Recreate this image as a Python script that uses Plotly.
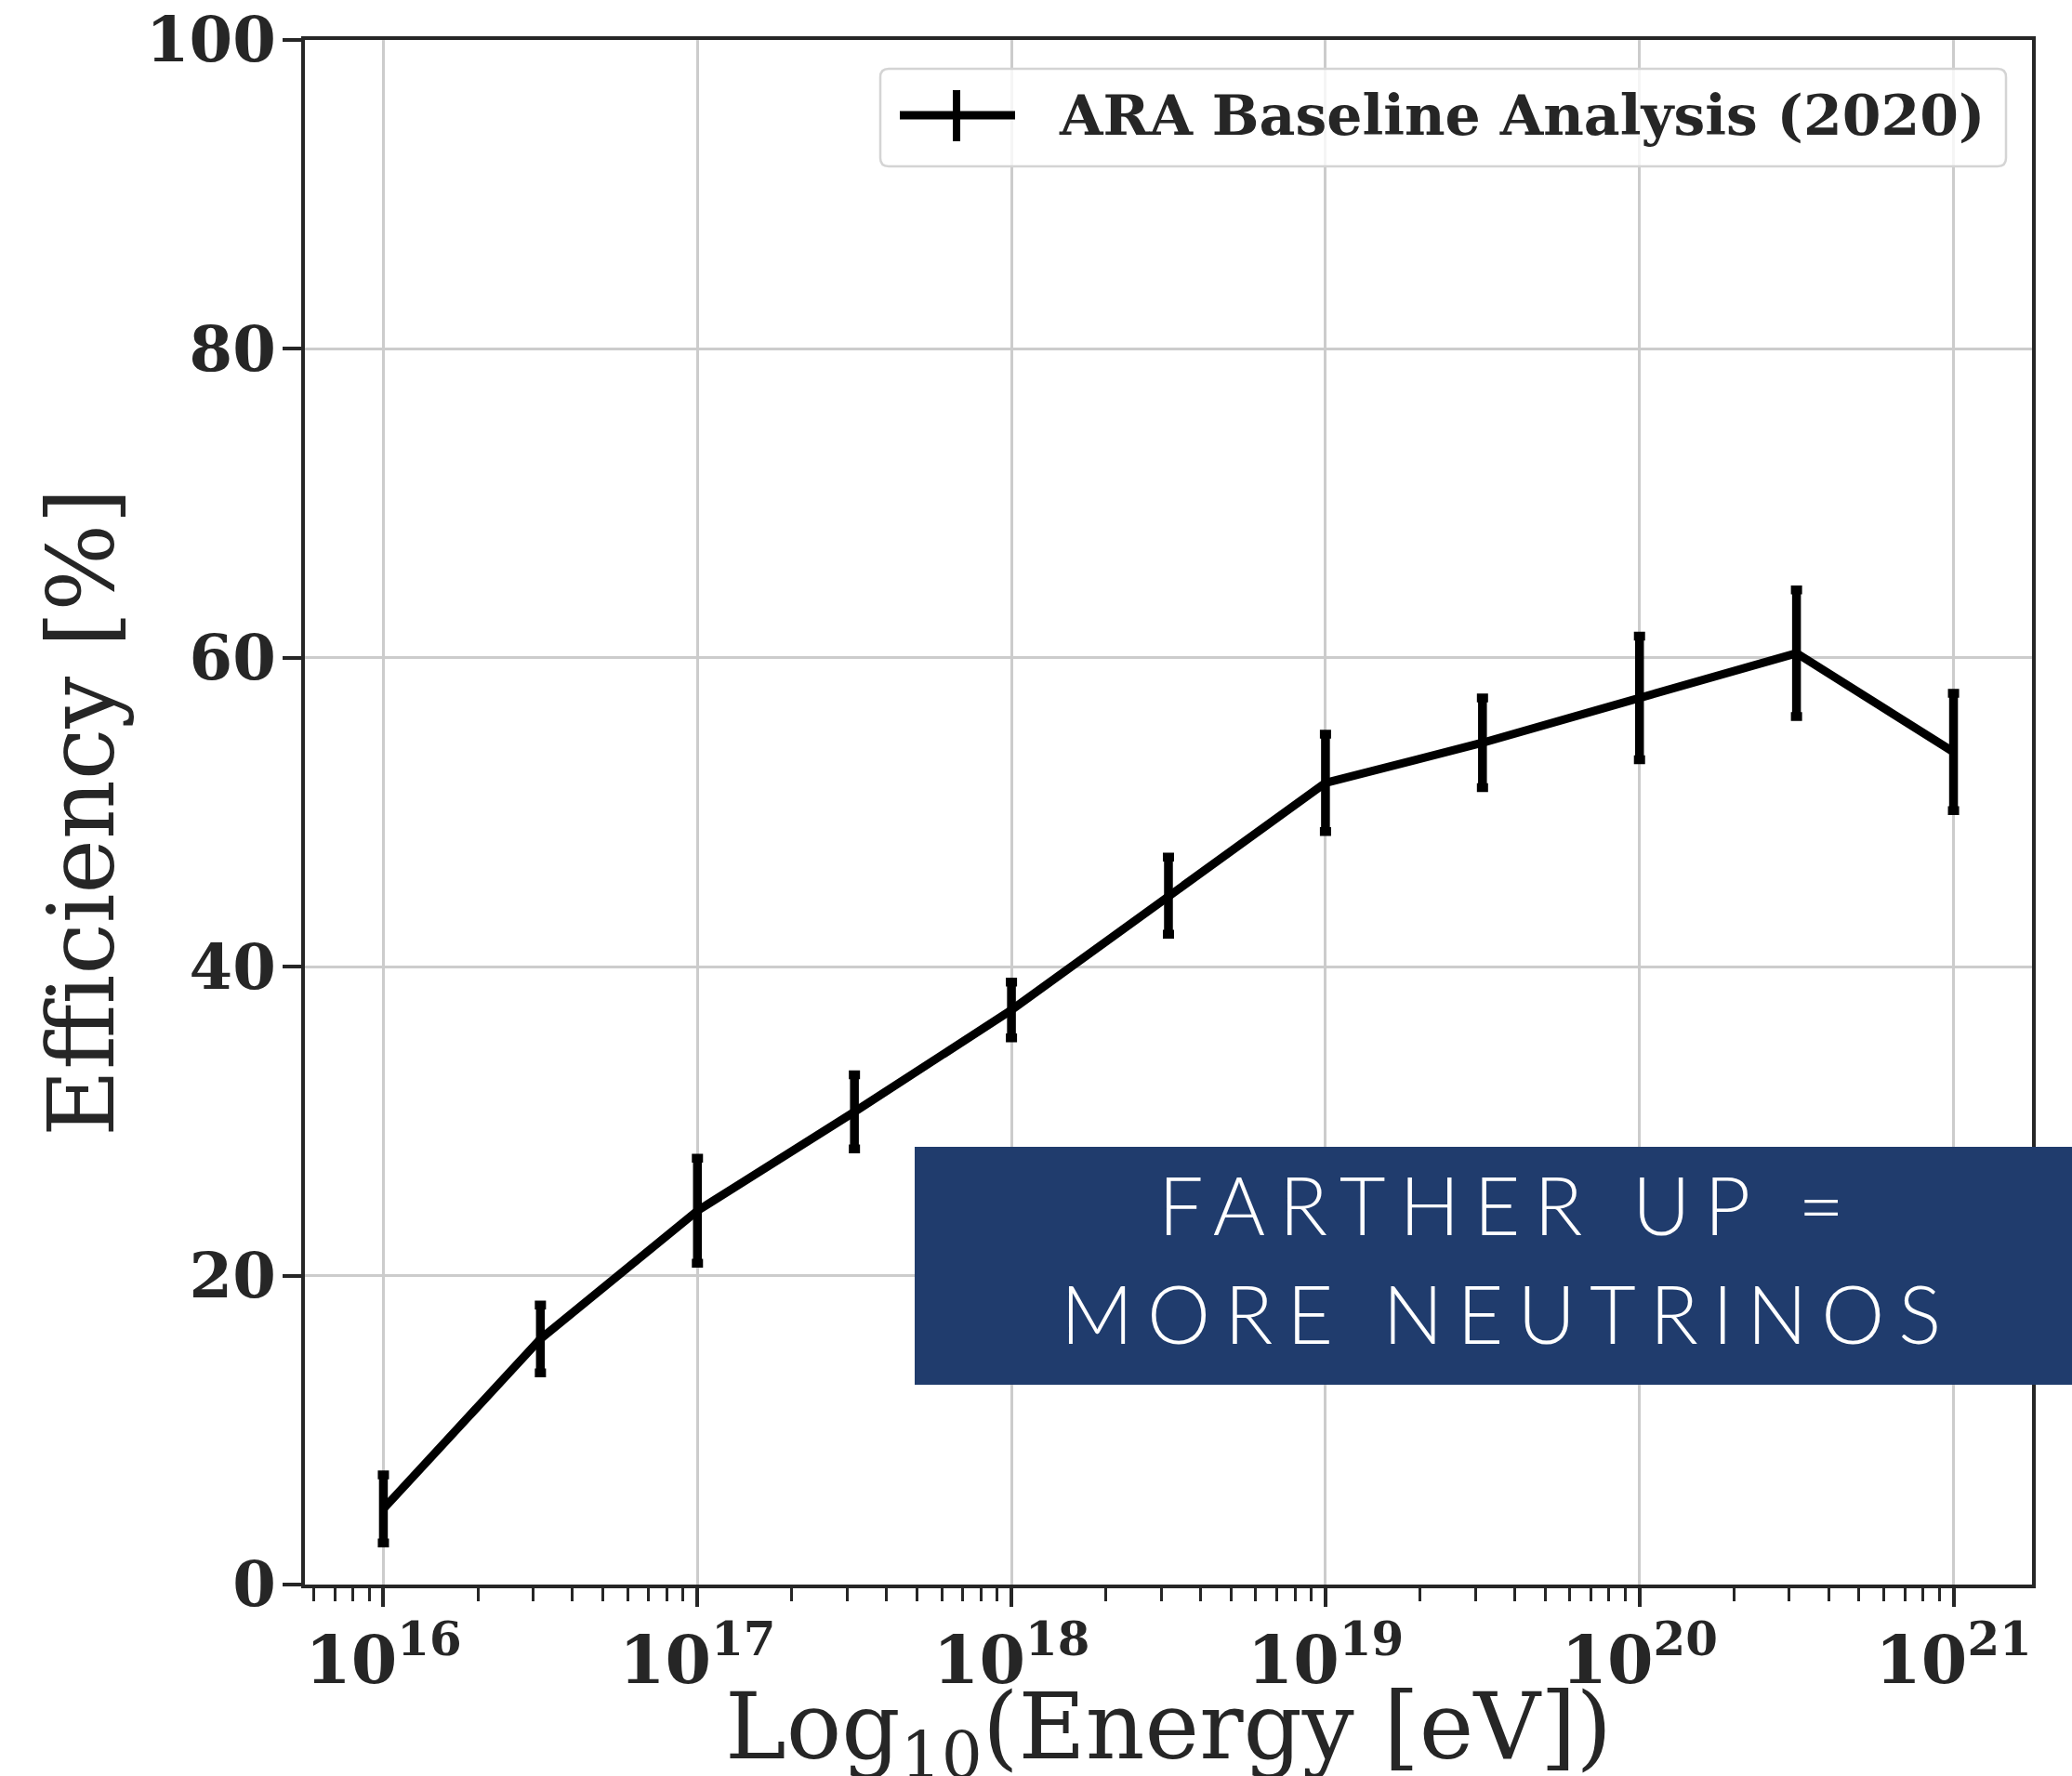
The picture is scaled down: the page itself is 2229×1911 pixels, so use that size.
import plotly.graph_objects as go

# ---- data ----
energy_eV = [1e16, 3.162e16, 1e17, 3.162e17, 1e18, 3.162e18, 1e19, 3.162e19, 1e20, 3.162e20, 1e21]
efficiency_pct = [4.9, 15.9, 24.2, 30.6, 37.2, 44.6, 51.9, 54.5, 57.4, 60.3, 53.9]
efficiency_err = [2.2, 2.2, 3.4, 2.4, 1.8, 2.5, 3.15, 2.9, 4.0, 4.1, 3.8]
y_ticks = [0, 20, 40, 60, 80, 100]
series_name = "ARA Baseline Analysis (2020)"
x_title = "Log<sub>10</sub>(Energy [eV])"
y_title = "Efficiency [%]"
box_lines = ["FARTHER UP =", "MORE NEUTRINOS"]

W, H = 2229, 1911
L, R, T, B = 328, 43, 43, 206
PW, PH = W - L - R, H - T - B

def px(x):
    return (x - L) / PW

def py(y):
    return (H - B - y) / PH

INK = "#262626"
GRID = "#cccccc"

fig = go.Figure()
fig.add_trace(go.Scatter(
    x=energy_eV, y=efficiency_pct, mode="lines", name=series_name,
    line=dict(color="black", width=9),
    error_y=dict(type="data", array=efficiency_err, visible=True,
                 color="black", thickness=9.5, width=6),
    showlegend=False,
))

axis_common = dict(
    showline=True, linecolor=INK, linewidth=3.5, mirror=True,
    ticks="outside", ticklen=20, tickwidth=3.5, tickcolor=INK,
    showgrid=True, gridcolor=GRID, gridwidth=2.5, zeroline=False,
    automargin=False,
)

fig.update_layout(
    width=W, height=H,
    margin=dict(l=L, r=R, t=T, b=B, autoexpand=False),
    paper_bgcolor="white", plot_bgcolor="white",
    xaxis=dict(
        type="log", range=[15.75, 21.25], dtick=1,
        exponentformat="power", showexponent="all",
        tickfont=dict(family="DejaVu Serif", size=57, color=INK, weight="bold"),
        minor=dict(ticks="outside", ticklen=14, tickwidth=3, tickcolor=INK,
                   dtick="D1", showgrid=False),
        **axis_common,
    ),
    yaxis=dict(
        range=[0, 100], tickvals=y_ticks, ticklabelstandoff=-6,
        tickfont=dict(family="DejaVu Serif", size=67, color=INK, weight="bold"),
        **axis_common,
    ),
)

# ---- axis titles ----
fig.add_annotation(text=x_title, xref="paper", yref="paper",
                   x=px(1257), y=py(1864), xanchor="center", yanchor="middle",
                   showarrow=False,
                   font=dict(family="DejaVu Serif", size=99, color=INK))
fig.add_annotation(text=y_title, xref="paper", yref="paper", textangle=-90,
                   x=px(87), y=py(874), xanchor="center", yanchor="middle",
                   showarrow=False,
                   font=dict(family="DejaVu Serif", size=99, color=INK))

# ---- legend drawn as a framed box ----
lx0, lx1, ly0, ly1 = px(947), px(2158), py(179), py(74)
rx, ry = 9 / PW, 9 / PH
path = (f"M {lx0+rx},{ly0} L {lx1-rx},{ly0} Q {lx1},{ly0} {lx1},{ly0+ry} "
        f"L {lx1},{ly1-ry} Q {lx1},{ly1} {lx1-rx},{ly1} L {lx0+rx},{ly1} "
        f"Q {lx0},{ly1} {lx0},{ly1-ry} L {lx0},{ly0+ry} Q {lx0},{ly0} {lx0+rx},{ly0} Z")
fig.add_shape(type="path", path=path, xref="paper", yref="paper",
              fillcolor="rgba(255,255,255,0.8)", line=dict(color="#d4d4d4", width=2.5),
              layer="above")
fig.add_shape(type="line", xref="paper", yref="paper",
              x0=px(968), x1=px(1092), y0=py(124), y1=py(124),
              line=dict(color="black", width=9), layer="above")
fig.add_shape(type="line", xref="paper", yref="paper",
              x0=px(1029), x1=px(1029), y0=py(152), y1=py(97),
              line=dict(color="black", width=8), layer="above")
fig.add_annotation(text=series_name, xref="paper", yref="paper",
                   x=px(1137), y=py(124), xanchor="left", yanchor="middle",
                   showarrow=False,
                   font=dict(family="DejaVu Serif", size=60, color=INK, weight="bold"))

# ---- navy call-out box ----
fig.add_shape(type="rect", xref="paper", yref="paper",
              x0=px(984), x1=px(2260), y0=py(1490), y1=py(1234),
              fillcolor="#203c6d", line=dict(width=0), layer="above")
for text, yc in zip(box_lines, [1295, 1412]):
    fig.add_annotation(text=f'<span style="letter-spacing:15px">{text}</span>',
                       xref="paper", yref="paper",
                       x=px(1622), y=py(yc), xanchor="center", yanchor="middle",
                       showarrow=False, align="center",
                       font=dict(family="Lato", size=86, color="white", weight=300))

fig.write_html("out.html")
